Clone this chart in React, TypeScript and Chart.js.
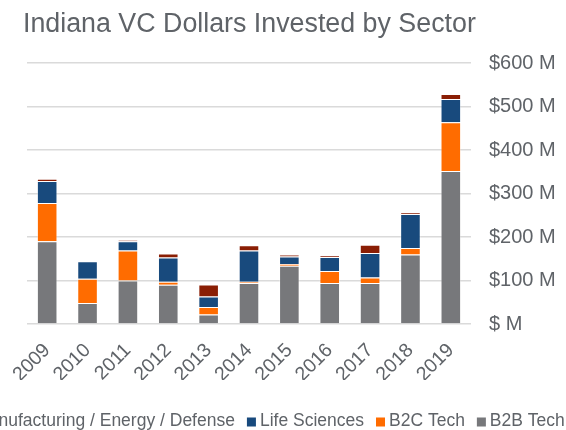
import React, { useEffect, useRef } from "react";
import { Chart, registerables } from "chart.js";

Chart.register(...registerables);

const TITLE = "Indiana VC Dollars Invested by Sector";
const years = ["2009", "2010", "2011", "2012", "2013", "2014", "2015", "2016", "2017", "2018", "2019"];
const b2bTech = [190, 48, 100, 90, 22, 94, 134, 94, 94, 160, 352];
const b2cTech = [88, 56, 69, 7, 17, 3, 4, 28, 13, 15, 112];
const lifeSciences = [51, 40, 21, 56, 24, 72, 17, 32, 56, 78, 53];
const manufacturing = [5, 0, 3, 9, 28, 12, 5, 3, 19, 3, 12];
const yTicks = [0, 100, 200, 300, 400, 500, 600];

const FONT = "'Liberation Sans', Arial, sans-serif";
const TEXT = "#5f6368";

const overlayPlugin = {
  id: "overlay",
  afterDraw(chart: any) {
    const ctx = chart.ctx;
    ctx.save();
    // title
    ctx.fillStyle = TEXT;
    ctx.font = `26.8px ${FONT}`;
    ctx.textAlign = "left";
    ctx.textBaseline = "alphabetic";
    ctx.fillText(TITLE, 23, 32);
    // legend (reverse dataset order)
    const ds = chart.data.datasets.slice().reverse();
    ctx.font = `17.5px ${FONT}`;
    const box = 9;
    const gapBox = 4;
    const gapItem = 12;
    const widths = ds.map((d: any) => ctx.measureText(d.label).width);
    let total = 0;
    widths.forEach((w: number, i: number) => {
      total += box + gapBox + w + (i < widths.length - 1 ? gapItem : 0);
    });
    let x = 263 - total / 2;
    const y = 421.5;
    ctx.textBaseline = "middle";
    ds.forEach((d: any, i: number) => {
      ctx.fillStyle = d.backgroundColor;
      ctx.fillRect(x, y - box / 2 + 0.5, box, box);
      x += box + gapBox;
      ctx.fillStyle = TEXT;
      ctx.fillText(d.label, x, y);
      x += widths[i] + gapItem;
    });
    ctx.restore();
  },
};

export default function App() {
  const ref = useRef<HTMLCanvasElement | null>(null);
  useEffect(() => {
    if (!ref.current) return;
    const border = "rgba(255,255,255,0.35)";
    const chart = new Chart(ref.current, {
      type: "bar",
      data: {
        labels: years,
        datasets: [
          { label: "B2B Tech", data: b2bTech, backgroundColor: "#77787b", borderColor: border, borderWidth: 1 },
          { label: "B2C Tech", data: b2cTech, backgroundColor: "#ff6c00", borderColor: border, borderWidth: 1 },
          { label: "Life Sciences", data: lifeSciences, backgroundColor: "#184a7d", borderColor: border, borderWidth: 1 },
          { label: "Manufacturing / Energy / Defense", data: manufacturing, backgroundColor: "#8a1e04", borderColor: border, borderWidth: 1 },
        ],
      },
      options: {
        responsive: false,
        animation: false,
        layout: { padding: { top: 63, left: 27, right: 10, bottom: 50 } },
        plugins: {
          legend: { display: false },
          title: { display: false },
          tooltip: { enabled: false },
        },
        datasets: { bar: { categoryPercentage: 1, barPercentage: 0.51 } },
        scales: {
          x: {
            stacked: true,
            grid: { display: false },
            border: { display: false },
            ticks: {
              autoSkip: false,
              minRotation: 45,
              maxRotation: 45,
              padding: 7,
              color: TEXT,
              font: { family: FONT, size: 19.5 },
            },
            afterFit(scale: any) {
              scale.height = 56;
            },
          },
          y: {
            stacked: true,
            position: "right",
            min: 0,
            max: 600,
            afterBuildTicks(scale: any) {
              scale.ticks = yTicks.map((v) => ({ value: v }));
            },
            grid: { color: "#dadada", lineWidth: 1.5, drawTicks: false },
            border: { display: false },
            ticks: {
              padding: 18,
              color: TEXT,
              font: { family: FONT, size: 20 },
              callback: (v: any) => (Number(v) === 0 ? "$ M" : `$${v} M`),
            },
            afterFit(scale: any) {
              scale.width = 85;
            },
          },
        },
      },
      plugins: [overlayPlugin],
    });
    return () => chart.destroy();
  }, []);
  return (
    <div style={{ position: "fixed", left: 0, top: 0, width: 566, height: 430, background: "#fff" }}>
      <canvas ref={ref} width={566} height={430} style={{ display: "block" }} />
    </div>
  );
}
